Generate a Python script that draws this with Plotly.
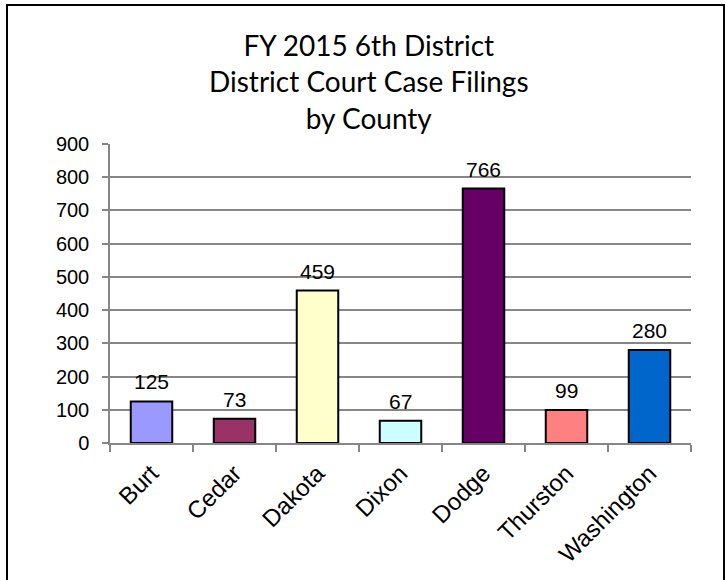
import plotly.graph_objects as go

counties = ["Burt", "Cedar", "Dakota", "Dixon", "Dodge", "Thurston", "Washington"]
filings = [125, 73, 459, 67, 766, 99, 280]
bar_colors = ["#9999FF", "#993366", "#FFFFCC", "#CCFFFF", "#660066", "#FF8080", "#0066CC"]
y_ticks = [0, 100, 200, 300, 400, 500, 600, 700, 800, 900]
title_lines = ["FY 2015 6th District", "District Court Case Filings", "by County"]

W, H = 725, 580
L, R, T, B = 110, 34, 144, 137
pw, ph = W - L - R, H - T - B

AX_FONT = "Liberation Sans, Arial, sans-serif"

fig = go.Figure()
fig.add_trace(go.Bar(
    x=counties, y=filings,
    marker=dict(color=bar_colors, line=dict(color="#000000", width=2)),
    width=0.5,
    hoverinfo="skip",
))

# value labels above the bars
for c, v in zip(counties, filings):
    fig.add_annotation(x=c, y=v, xref="x", yref="y", text=str(v),
                       showarrow=False, yanchor="bottom", yshift=6,
                       font=dict(family=AX_FONT, size=21, color="#000000"))

# chart title
fig.add_annotation(xref="paper", yref="paper",
                   x=(369 - L) / pw, y=(H - 26 - B) / ph,
                   xanchor="center", yanchor="top", showarrow=False,
                   text="<br>".join(title_lines),
                   font=dict(family="Lato, Carlito, Calibri, sans-serif", size=28, color="#000000"))

# chart frame (only left, top and right edges fall inside the picture)
fig.add_shape(type="rect", xref="paper", yref="paper",
              x0=(7 - L) / pw, x1=(724 - L) / pw,
              y0=(H - 590 - B) / ph, y1=(H - 5 - B) / ph,
              line=dict(color="#000000", width=2), fillcolor="rgba(0,0,0,0)", layer="below")

fig.update_layout(
    width=W, height=H,
    margin=dict(l=L, r=R, t=T, b=B, pad=0),
    paper_bgcolor="#FFFFFF", plot_bgcolor="#FFFFFF",
    showlegend=False,
    xaxis=dict(
        type="category", tickangle=-45,
        showline=True, linecolor="#868686", linewidth=1.5,
        ticks="outside", ticklen=7, tickcolor="#868686", tickwidth=1.5,
        tickson="boundaries", ticklabelstandoff=5,
        showgrid=False,
        tickfont=dict(family=AX_FONT, size=24, color="#000000"),
    ),
    yaxis=dict(
        range=[0, 900], tickvals=y_ticks,
        showline=True, linecolor="#868686", linewidth=1.5,
        ticks="outside", ticklen=6, tickcolor="#868686", tickwidth=1.5,
        ticklabelstandoff=9,
        showgrid=True, gridcolor="#868686", gridwidth=1.5,
        zeroline=False,
        tickfont=dict(family=AX_FONT, size=20, color="#000000"),
    ),
)

fig.write_html("out.html", config={"displayModeBar": False},
               post_script="document.body.style.margin='0';document.body.style.overflow='hidden';")
